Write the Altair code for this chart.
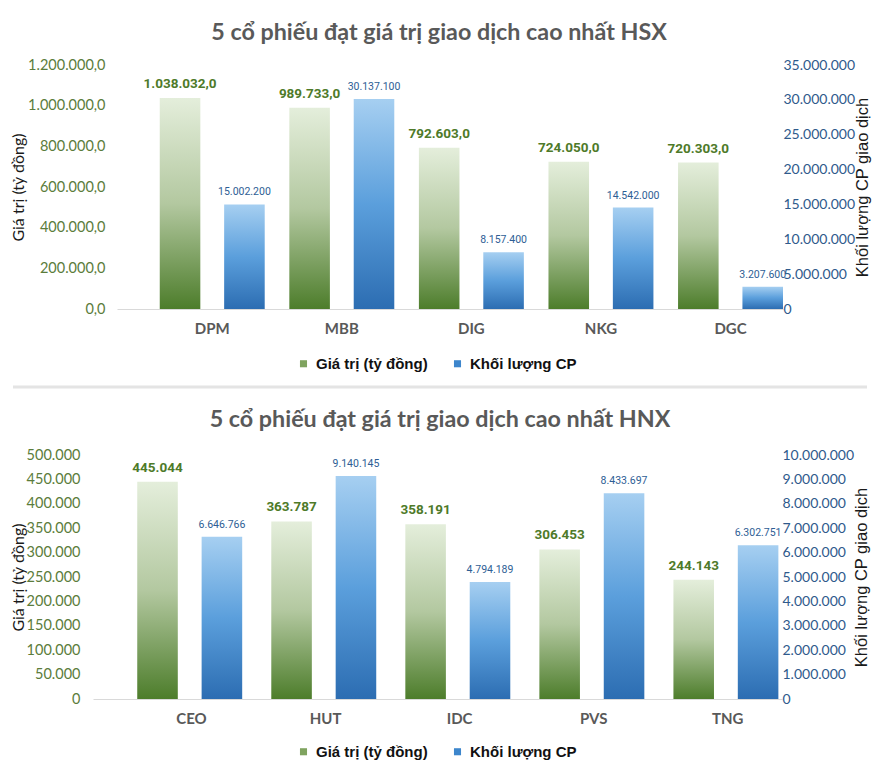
import altair as alt
import pandas as pd

# ---------------- data ----------------
series_names = ["Giá trị (tỷ đồng)", "Khối lượng CP"]

hsx_title = "5 cổ phiếu đạt giá trị giao dịch cao nhất HSX"
hsx_codes = ["DPM", "MBB", "DIG", "NKG", "DGC"]
hsx_value = [1038032.0, 989733.0, 792603.0, 724050.0, 720303.0]
hsx_volume = [15002200, 30137100, 8157400, 14542000, 3207600]
hsx_left_ticks = [0, 200000, 400000, 600000, 800000, 1000000, 1200000]
hsx_right_ticks = [0, 5000000, 10000000, 15000000, 20000000, 25000000, 30000000, 35000000]

hnx_title = "5 cổ phiếu đạt giá trị giao dịch cao nhất HNX"
hnx_codes = ["CEO", "HUT", "IDC", "PVS", "TNG"]
hnx_value = [445044, 363787, 358191, 306453, 244143]
hnx_volume = [6646766, 9140145, 4794189, 8433697, 6302751]
hnx_left_ticks = [0, 50000, 100000, 150000, 200000, 250000, 300000, 350000, 400000, 450000, 500000]
hnx_right_ticks = [0, 1000000, 2000000, 3000000, 4000000, 5000000, 6000000, 7000000, 8000000, 9000000, 10000000]

# ---------------- styles ----------------
GREEN_GRAD = alt.Gradient(
    gradient="linear",
    stops=[alt.GradientStop(color="#e4eedb", offset=0),
           alt.GradientStop(color="#b3c8a0", offset=0.5),
           alt.GradientStop(color="#4d7d2b", offset=1)],
    x1=0, x2=0, y1=0, y2=1)
BLUE_GRAD = alt.Gradient(
    gradient="linear",
    stops=[alt.GradientStop(color="#a6cff1", offset=0),
           alt.GradientStop(color="#5b9fdc", offset=0.5),
           alt.GradientStop(color="#2c6db2", offset=1)],
    x1=0, x2=0, y1=0, y2=1)


def panel(title, codes, values, volumes, left_ticks, right_ticks, left_fmt,
          val_fmt, width, title_dx, title_offset, legend_x, legend_y, left_lp, left_tp,
          separator=False):
    df = pd.DataFrame({
        "code": codes + codes,
        "series": [series_names[0]] * len(codes) + [series_names[1]] * len(codes),
        "value": list(values) + list(volumes),
    })
    x_enc = alt.X("code:N", sort=codes,
                  scale=alt.Scale(paddingInner=0.19, paddingOuter=0.165, align=1),
                  axis=alt.Axis(title=None, labelFont="Lato", labelFontWeight="bold",
                                labelFontSize=15, labelColor="#595959", labelAngle=0,
                                domainColor="#d9d9d9", domainWidth=1, ticks=False,
                                labelPadding=12, grid=False))
    xo_enc = alt.XOffset("series:N", sort=series_names,
                         scale=alt.Scale(domain=series_names, paddingInner=0.37, paddingOuter=0))
    base = alt.Chart(df).encode(x=x_enc, xOffset=xo_enc)

    y_left = alt.Y("value:Q", scale=alt.Scale(domain=[left_ticks[0], left_ticks[-1]], nice=False),
                   axis=alt.Axis(values=left_ticks, format=left_fmt, title=series_names[0],
                                 orient="left", grid=False, domain=False, ticks=False,
                                 labelFont="Lato", labelFontSize=14.5, labelColor="#5b7c3b",
                                 labelPadding=left_lp, titleFont="Lato", titleFontSize=16,
                                 titleFontWeight="normal", titleColor="#1a1a1a",
                                 titlePadding=left_tp))
    y_right = alt.Y("value:Q", scale=alt.Scale(domain=[right_ticks[0], right_ticks[-1]], nice=False),
                    axis=alt.Axis(values=right_ticks, format=",d", title="Khối lượng CP giao dịch",
                                  orient="right", grid=False, domain=False, ticks=False,
                                  labelFont="Lato", labelFontSize=14, labelColor="#2f5a8c",
                                  labelPadding=0, titleFont="Liberation Sans", titleFontSize=16.5,
                                  titleFontWeight="normal", titleColor="#1a1a1a",
                                  titleAngle=270, titleBaseline="top", titlePadding=0))

    g_data = base.transform_filter(alt.datum.series == series_names[0])
    b_data = base.transform_filter(alt.datum.series == series_names[1])

    g_bar = g_data.mark_bar(color=GREEN_GRAD).encode(y=y_left)
    g_txt = g_data.mark_text(baseline="bottom", dy=-7, font="Roboto",
                             fontWeight="bold", fontSize=13.5, color="#4e7a29").encode(
        y=y_left, text=alt.Text("value:Q", format=val_fmt))
    legend_layer = alt.Chart(df).mark_square(opacity=0).encode(
        x=alt.value(0), y=alt.value(0),
        color=alt.Color("series:N",
                        scale=alt.Scale(domain=series_names, range=["#7fa35f", "#3d86cc"]),
                        legend=alt.Legend(orient="none", legendX=legend_x, legendY=legend_y,
                                          direction="horizontal", title=None,
                                          symbolType="square", symbolSize=50,
                                          symbolOpacity=1, symbolStrokeWidth=0,
                                          labelFont="Liberation Sans", labelFontWeight="bold",
                                          labelFontSize=15, labelColor="#111111",
                                          columnPadding=22, labelOffset=5, padding=0)))
    green_layers = [g_bar, g_txt, legend_layer]
    if separator:
        sep = alt.Chart(pd.DataFrame({"k": [0]})).mark_rule(color="#e4e4e4", strokeWidth=3).encode(
            x=alt.value(-104), x2=alt.value(750), y=alt.value(322))
        green_layers.append(sep)
    green = alt.layer(*green_layers)

    b_bar = b_data.mark_bar(color=BLUE_GRAD).encode(y=y_right)
    b_txt = b_data.mark_text(baseline="bottom", dy=-7, font="Roboto",
                             fontSize=10.5, color="#2e5e95").encode(
        y=y_right, text=alt.Text("value:Q", format=",d"))
    blue = alt.layer(b_bar, b_txt)

    main = alt.layer(green, blue).resolve_scale(y="independent", color="independent").properties(
        width=width, height=244,
        title=alt.TitleParams(title, font="Lato", fontSize=23.3, fontWeight="bold",
                              color="#595959", anchor="middle", frame="group",
                              dx=title_dx, offset=title_offset))
    # empty narrow view on the left so that every panel starts at the same left edge
    spacer = alt.Chart(pd.DataFrame({"k": [0]})).mark_point(opacity=0, size=1, strokeWidth=0).encode(
        x=alt.value(1), y=alt.value(0)).properties(width=2, height=1)
    return alt.hconcat(spacer, main, spacing=0)


top = panel(hsx_title, hsx_codes, hsx_value, hsx_volume, hsx_left_ticks, hsx_right_ticks,
            ",.1f", ",.1f", 666, -11, 12, 179, 291, 12, 1, separator=True)
bottom = panel(hnx_title, hnx_codes, hnx_value, hnx_volume, hnx_left_ticks, hnx_right_ticks,
               ",d", ",d", 689, 2.5, 15, 203, 289, 13, 0)

chart = alt.vconcat(top, bottom, spacing=18).resolve_scale(
    color="independent").resolve_legend(color="independent").configure(
    locale={"number": {"decimal": ",", "thousands": ".", "grouping": [3], "currency": ["", ""]}}
).configure_view(stroke=None).properties(background="white",
                                          padding={"left": 0, "top": 12, "right": 0, "bottom": 0})

chart.save("out.html", embed_options={"renderer": "svg", "actions": False})
